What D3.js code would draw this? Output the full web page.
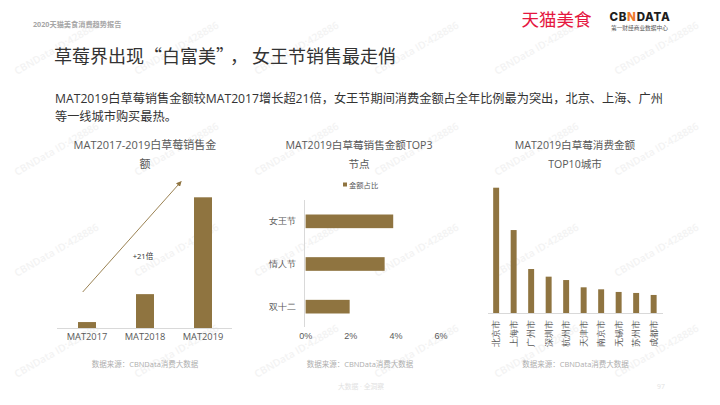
<!DOCTYPE html>
<html><head><meta charset="utf-8">
<script src="https://cdnjs.cloudflare.com/ajax/libs/d3/7.8.5/d3.min.js"></script>
<style>
html,body{margin:0;padding:0;background:#fff;}
svg{display:block;font-family:"Open Sans","Noto Sans CJK SC",sans-serif;}
.axis path,.axis line{display:none;}
</style></head><body>
<svg id="c" width="720" height="405"></svg>
<script>
const periods=["MAT2017","MAT2018","MAT2019"];
const periodValues=[1,5.7,22];
const festivals=["女王节","情人节","双十二"];
const festivalShare=[3.9,3.52,1.97];
const shareTicks=[0,2,4,6];
const cities=["北京市","上海市","广州市","深圳市","杭州市","天津市","南京市","无锡市","苏州市","成都市"];
const cityValues=[100,66.2,35.1,29,26.3,20.5,18.9,16.8,16,14.4];

const BAR="#8F7440", TXT="#595959", AXIS="#D9D9D9", SRC="#AEAEAE";
const CJK='"Noto Sans CJK SC",sans-serif';
const svg=d3.select("#c");

// watermark
const wm=svg.append("g");
d3.range(4).forEach(r=>d3.range(6).forEach(c=>{
  wm.append("text").attr("transform",`translate(${17+c*120},${75+r*101}) rotate(-30)`)
    .attr("font-size",10.2).attr("font-weight",600).attr("fill","#F3F3F3").text("CBNData ID:428886");
}));

function txt(x,y,s,size,fill,opts={}){
  const t=svg.append("text").attr("x",x).attr("y",y).attr("font-size",size).attr("fill",fill).text(s);
  Object.entries(opts).forEach(([k,v])=>t.attr(k,v));
  return t;
}
// header
txt(33,27,"2020天猫美食消费趋势报告",7.2,"#A6A6A6",{"font-weight":700});
txt(521.5,25.5,"天猫美食",17.5,"#E5173F",{"font-family":CJK,"font-weight":400});
const cbn=txt(609.5,21,"",11.5,"#1E1E1E",{"font-weight":800,"font-family":"Inter,sans-serif","letter-spacing":0.7});
cbn.append("tspan").text("CB");
cbn.append("tspan").attr("fill","#EE7A2B").text("N");
cbn.append("tspan").text("DATA");
txt(611,29.5,"第一财经商业数据中心",5.7,"#555",{"font-family":CJK});
const ttl=txt(54,63,"草莓界出现“白富美”",18,"#333",{"font-family":CJK});
ttl.append("tspan").attr("dx",5).text("，");
ttl.append("tspan").attr("dx",4).text("女王节销售最走俏");
txt(55,103,"MAT2019白草莓销售金额较MAT2017增长超21倍，女王节期间消费金额占全年比例最为突出，北京、上海、广州",12.2,"#333");
txt(55,120.5,"等一线城市购买最热。",12.2,"#333");

function titles(cx,a,b,size){
  txt(cx,149,a,size,TXT,{"text-anchor":"middle"});
  txt(cx,167.5,b,size,TXT,{"text-anchor":"middle"});
}
titles(145,"MAT2017-2019白草莓销售金","额",11);
titles(359,"MAT2019白草莓销售金额TOP3","节点",10.6);
titles(575,"MAT2019白草莓消费金额","TOP10城市",10.6);

// chart 1
const x1=d3.scaleBand().domain(periods).range([58,232]).paddingInner(.69).paddingOuter(.345);
const y1=d3.scaleLinear().domain([0,22]).range([328,197.3]);
svg.append("g").selectAll("rect").data(periods).join("rect")
  .attr("x",d=>x1(d)).attr("width",x1.bandwidth())
  .attr("y",(d,i)=>y1(periodValues[i])).attr("height",(d,i)=>y1(0)-y1(periodValues[i])).attr("fill",BAR);
svg.append("line").attr("x1",57).attr("x2",232).attr("y1",328.5).attr("y2",328.5).attr("stroke",AXIS);
const a1=svg.append("g").attr("class","axis").attr("transform","translate(0,328)")
  .call(d3.axisBottom(x1).tickSize(0).tickPadding(5));
a1.selectAll("text").attr("font-size",9.3).attr("fill",TXT).attr("font-family",'"Open Sans",sans-serif');
svg.append("defs").append("marker").attr("id","ah").attr("viewBox","0 0 6 6").attr("refX",5).attr("refY",3)
  .attr("markerWidth",6).attr("markerHeight",6).attr("orient","auto")
  .append("path").attr("d","M0,0L6,3L0,6Z").attr("fill",BAR);
svg.append("line").attr("x1",82.7).attr("y1",292).attr("x2",181).attr("y2",181.7)
  .attr("stroke",BAR).attr("stroke-width",.9).attr("marker-end","url(#ah)");
txt(143,259,"+21倍",7.6,"#333",{"text-anchor":"middle"});

// chart 2
const x2=d3.scaleLinear().domain([0,6]).range([305.2,440.6]);
const y2=d3.scaleBand().domain(festivals).range([200,328]).paddingInner(.68).paddingOuter(.34);
svg.append("g").selectAll("rect").data(festivals).join("rect")
  .attr("x",x2(0)+.4).attr("y",d=>y2(d)).attr("height",y2.bandwidth())
  .attr("width",(d,i)=>x2(festivalShare[i])-x2(0)-.4).attr("fill",BAR);
svg.append("line").attr("x1",304.5).attr("x2",304.5).attr("y1",200).attr("y2",327).attr("stroke",AXIS);
const a2=svg.append("g").attr("class","axis").attr("transform","translate(296,0)")
  .call(d3.axisLeft(y2).tickSize(0).tickPadding(0));
a2.selectAll("text").attr("font-size",9).attr("fill",TXT);
const a2b=svg.append("g").attr("class","axis").attr("transform","translate(0,328)")
  .call(d3.axisBottom(x2).tickValues(shareTicks).tickFormat(d=>d+"%").tickSize(0).tickPadding(5));
a2b.selectAll("text").attr("font-size",9).attr("fill",TXT);
svg.append("rect").attr("x",343).attr("y",182.5).attr("width",4).attr("height",4).attr("fill",BAR);
txt(349,187.5,"金额占比",7.3,TXT);

// chart 3
const x3=d3.scaleBand().domain(cities).range([487.4,662.4]).paddingInner(.66).paddingOuter(.33);
const y3=d3.scaleLinear().domain([0,100]).range([313,187.7]);
svg.append("g").selectAll("rect").data(cities).join("rect")
  .attr("x",d=>x3(d)).attr("width",x3.bandwidth())
  .attr("y",(d,i)=>y3(cityValues[i])).attr("height",(d,i)=>y3(0)-y3(cityValues[i])).attr("fill",BAR);
svg.append("line").attr("x1",488).attr("x2",663).attr("y1",313.5).attr("y2",313.5).attr("stroke",AXIS);
const a3=svg.append("g").attr("class","axis").attr("transform","translate(0,313)")
  .call(d3.axisBottom(x3).tickSize(0).tickPadding(0));
a3.selectAll("text").attr("font-size",9).attr("fill",TXT)
  .attr("text-anchor","end").attr("dy",0)
  .attr("transform","translate(3.2,7) rotate(-90)").attr("y",0).attr("x",0);

// sources and footer
[[145],[360],[575.5]].forEach(([cx])=>txt(cx,366.5,"数据来源：CBNData消费大数据",7.5,SRC,{"text-anchor":"middle"}));
txt(361,389,"大数据 · 全洞察",6.8,"#E2E2E2",{"text-anchor":"middle"});
txt(657,389,"97",6.8,"#E2E2E2");
</script></body></html>
